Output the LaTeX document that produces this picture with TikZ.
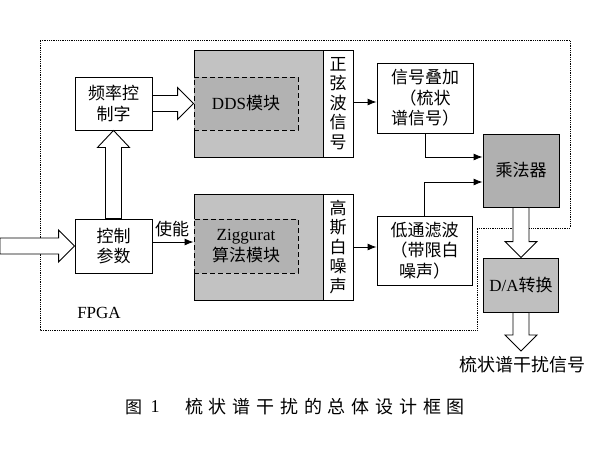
\documentclass[tikz,border=0pt]{standalone}
\usepackage{fontspec}
\setmainfont{Liberation Serif}
\newfontfamily\cjk{Noto Sans CJK SC}
\usetikzlibrary{arrows.meta,calc}
\definecolor{grayA}{gray}{0.76}
\definecolor{grayB}{gray}{0.70}
\definecolor{grayC}{gray}{0.69}
\definecolor{grayD}{gray}{0.75}
\newcommand{\bfont}{\fontsize{17}{20.5}\selectfont}
\newcommand{\HArrowR}[2]{%
  \draw[hollow] let \p1=(#1), \p2=(#2) in
    (\x1,\y1+8pt) -- (\x2-16pt,\y1+8pt) -- (\x2-16pt,\y1+16pt) -- (\x2,\y1)
    -- (\x2-16pt,\y1-16pt) -- (\x2-16pt,\y1-8pt) -- (\x1,\y1-8pt) -- cycle;}
\newcommand{\HArrowU}[2]{%
  \draw[hollow] let \p1=(#1), \p2=(#2) in
    (\x1-8pt,\y1) -- (\x1-8pt,\y2-17pt) -- (\x1-16pt,\y2-17pt) -- (\x1,\y2)
    -- (\x1+16pt,\y2-17pt) -- (\x1+8pt,\y2-17pt) -- (\x1+8pt,\y1) -- cycle;}
\newcommand{\HArrowD}[2]{%
  \draw[hollow] let \p1=(#1), \p2=(#2) in
    (\x1-8pt,\y1) -- (\x1-8pt,\y2+16pt) -- (\x1-16pt,\y2+16pt) -- (\x1,\y2)
    -- (\x1+16pt,\y2+16pt) -- (\x1+8pt,\y2+16pt) -- (\x1+8pt,\y1) -- cycle;}
\tikzset{
  box/.style={draw, line width=0.9pt, fill=white, inner sep=0pt, align=center, font=\bfont\cjk},
  graybox/.style={draw, line width=0.9pt, fill=grayA, inner sep=0pt},
  innerbox/.style={draw, dash pattern=on 5pt off 3pt, line width=1pt, fill=grayB, inner sep=0pt, align=center, font=\bfont\rmfamily},
  arr/.style={line width=0.9pt, -{Latex[length=9pt,width=7pt]}},
  hollow/.style={draw, line width=0.9pt, fill=white},
  fpga/.style={line width=0.8pt, dash pattern=on 0.8pt off 1pt},
  lbl/.style={inner sep=0pt, font=\bfont\cjk}
}
\begin{document}
\begin{tikzpicture}[x=1pt,y=-1pt]
\useasboundingbox (0,0) rectangle (600,450);
% FPGA boundary
\draw[fpga] (40,40) -- (570,40) -- (570,228) -- (477,228) -- (477,330) -- (40,330) -- cycle;
\node[inner sep=0pt, font=\bfont\rmfamily] (fpgalbl) at (99,313) {FPGA};
% boxes
\node[box, minimum width=77pt, minimum height=53pt] (fk) at (113.5,103.5) {频率控\\制字};
\node[box, minimum width=77pt, minimum height=54pt] (ctrl) at (113.5,246) {控制\\参数};
\node[graybox, minimum width=129pt, minimum height=107pt] (dds) at (258.5,103.5) {};
\node[innerbox, minimum width=104pt, minimum height=53pt] (ddsin) at (246,103.5) {DDS{\cjk 模块}};
\node[box, minimum width=30pt, minimum height=107pt, font=\fontsize{17}{19.5}\selectfont\cjk] (sinl) at (338,103.5) {正\\弦\\波\\信\\号};
\node[graybox, minimum width=129pt, minimum height=106pt] (zig) at (258.5,247) {};
\node[innerbox, minimum width=104pt, minimum height=54pt] (zigin) at (246,246) {Ziggurat\\{\cjk 算法模块}};
\node[box, minimum width=30pt, minimum height=106pt, font=\fontsize{17}{19.5}\selectfont\cjk] (noisel) at (338,247) {高\\斯\\白\\噪\\声};
\node[box, minimum width=96pt, minimum height=70pt] (add) at (425,98) {信号叠加\\（梳状\\谱信号）};
\node[box, minimum width=95pt, minimum height=69pt] (lpf) at (424.5,250.5) {低通滤波\\（带限白\\噪声）};
\node[box, fill=grayC, minimum width=76pt, minimum height=73pt] (mul) at (521,170.5) {乘法器};
\node[box, fill=grayD, minimum width=75pt, minimum height=54pt, font=\bfont\rmfamily] (da) at (521,285) {D/A{\cjk 转换}};
\node[lbl, font=\fontsize{18}{20}\selectfont\cjk] (outl) at (522,365) {梳状谱干扰信号};
\node[lbl] (enl) at (172,229) {使能};
\coordinate (inl) at (0,246);
\coordinate (outp) at (521,351);
% hollow arrows
\HArrowR{inl}{ctrl.west}
\HArrowR{fk.east}{dds.west}
\HArrowU{ctrl.north}{fk.south}
\HArrowD{mul.south}{da.north}
\HArrowD{da.south}{outp}
% thin arrows
\draw[arr] (ctrl.east) ++(0,-4) -- ($(zig.west)+(0,-5)$);
\draw[arr] (sinl.east) ++(0,-1.5) -- ($(add.west)+(0,4)$);
\draw[arr] (noisel.east) -- (noisel.east -| lpf.west);
\coordinate (m1) at ($(mul.west)+(0,-13.5)$);
\coordinate (m2) at ($(mul.west)+(0,11.5)$);
\draw[arr] (add.south) |- (m1);
\draw[arr] (lpf.north) |- (m2);
% caption
\node[inner sep=0pt, font=\fontsize{17}{20}\selectfont\cjk] (capfig) at (133.5,407) {图};
\node[inner sep=0pt, font=\fontsize{18}{20}\selectfont\rmfamily] (capnum) at (155,407) {1};
\node[inner sep=0pt, font=\fontsize{18}{20}\selectfont\cjk] (cap) at (325,407)
  {\hbox to 280pt{梳\hfill 状\hfill 谱\hfill 干\hfill 扰\hfill 的\hfill 总\hfill 体\hfill 设\hfill 计\hfill 框\hfill 图}};
\end{tikzpicture}
\end{document}
